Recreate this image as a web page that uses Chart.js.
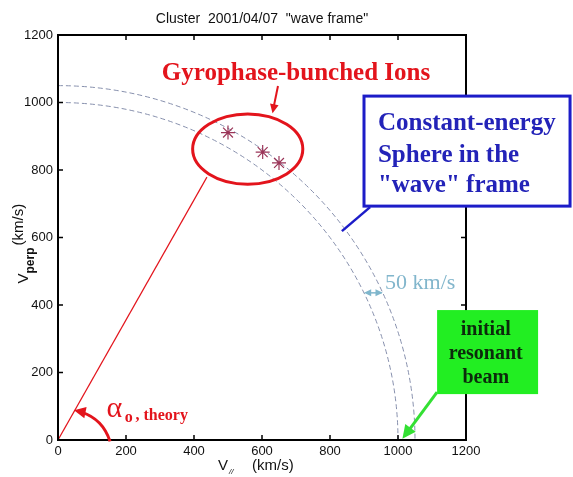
<!DOCTYPE html>
<html>
<head>
<meta charset="utf-8">
<script src="https://cdn.jsdelivr.net/npm/chart.js@4"></script>
<style>
  html, body { margin: 0; padding: 0; background: #fff; }
</style>
</head>
<body>
<canvas id="myChart" width="573" height="477"></canvas>
<script>
// --- data ---
const ionVpar = [500, 602, 650];          // km/s
const ionVperp = [911, 853, 821];         // km/s
const sphereRadii = [1000, 1050];         // constant-energy spheres, km/s
const pitchLineVpar = [0, 438];
const pitchLineVperp = [0, 779];
const axisTicks = [0, 200, 400, 600, 800, 1000, 1200];

const RED = '#e3141c';
const BLUE = '#1c1cc8';
const SERIF = '"Liberation Serif", "DejaVu Serif", serif';
const SANS = '"Liberation Sans", Arial, sans-serif';

// small drawing helpers
function arrowHead(ctx, x0, y0, x1, y1, size, color) {
    const a = Math.atan2(y1 - y0, x1 - x0);
    ctx.save();
    ctx.fillStyle = color;
    ctx.beginPath();
    ctx.moveTo(x1, y1);
    ctx.lineTo(x1 - size * Math.cos(a - 0.45), y1 - size * Math.sin(a - 0.45));
    ctx.lineTo(x1 - size * Math.cos(a + 0.45), y1 - size * Math.sin(a + 0.45));
    ctx.closePath();
    ctx.fill();
    ctx.restore();
}

function line(ctx, x0, y0, x1, y1, color, w) {
    ctx.save();
    ctx.strokeStyle = color;
    ctx.lineWidth = w;
    ctx.beginPath();
    ctx.moveTo(x0, y0);
    ctx.lineTo(x1, y1);
    ctx.stroke();
    ctx.restore();
}

// spheres (arcs) + frame, inward ticks, title, axis labels
const framePlugin = {
    id: 'frame',
    beforeDatasetsDraw(chart) {
        const { ctx, chartArea: a, scales: { x, y } } = chart;
        ctx.save();
        ctx.beginPath();
        ctx.rect(a.left, a.top, a.right - a.left, a.bottom - a.top);
        ctx.clip();
        ctx.strokeStyle = '#8790ad';
        ctx.lineWidth = 1;
        ctx.setLineDash([5, 3]);
        sphereRadii.forEach(r => {
            const cx = x.getPixelForValue(0), cy = y.getPixelForValue(0);
            const rx = x.getPixelForValue(r) - cx;
            const ry = cy - y.getPixelForValue(r);
            ctx.beginPath();
            ctx.ellipse(cx, cy, rx, ry, 0, -Math.PI / 2, 0);
            ctx.stroke();
        });
        ctx.restore();
    },
    afterDraw(chart) {
        const { ctx, chartArea: a, scales: { x, y } } = chart;
        ctx.save();
        // box
        ctx.strokeStyle = '#000';
        ctx.lineWidth = 2;
        ctx.strokeRect(a.left, a.top, a.right - a.left, a.bottom - a.top);
        // inward ticks on all four sides
        ctx.lineWidth = 1.5;
        ctx.beginPath();
        axisTicks.forEach(v => {
            const px = x.getPixelForValue(v);
            ctx.moveTo(px, a.bottom); ctx.lineTo(px, a.bottom - 5);
            ctx.moveTo(px, a.top); ctx.lineTo(px, a.top + 5);
            const py = y.getPixelForValue(v);
            ctx.moveTo(a.left, py); ctx.lineTo(a.left + 5, py);
            ctx.moveTo(a.right, py); ctx.lineTo(a.right - 5, py);
        });
        ctx.stroke();

        // title
        ctx.fillStyle = '#111';
        ctx.font = '14px ' + SANS;
        ctx.textAlign = 'center';
        ctx.textBaseline = 'alphabetic';
        ctx.fillText('Cluster  2001/04/07  "wave frame"', (a.left + a.right) / 2, 23);

        // x axis label: V// (km/s)
        const xc = (a.left + a.right) / 2;
        ctx.textAlign = 'left';
        ctx.font = '15px ' + SANS;
        ctx.fillText('V', xc - 44, 470);
        ctx.font = 'italic 8px ' + SANS;
        ctx.fillText('//', xc - 33, 474);
        ctx.font = '15px ' + SANS;
        ctx.fillText('(km/s)', xc - 10, 470);

        // y axis label: Vperp (km/s)
        ctx.save();
        ctx.translate(28, (a.top + a.bottom) / 2);
        ctx.rotate(-Math.PI / 2);
        ctx.font = '15px ' + SANS;
        ctx.fillText('V', -46, 0);
        ctx.font = 'bold 12px ' + SANS;
        ctx.fillText('perp', -36, 6);
        ctx.font = '15px ' + SANS;
        ctx.fillText('(km/s)', -8, -5);
        ctx.restore();
        ctx.restore();
    }
};

// red / blue / green annotations, placed in data units
const notesPlugin = {
    id: 'notes',
    afterDraw(chart) {
        const { ctx, scales: { x, y } } = chart;
        const X = v => x.getPixelForValue(v);
        const Y = v => y.getPixelForValue(v);
        ctx.save();

        // ellipse around the bunched ions
        ctx.strokeStyle = RED;
        ctx.lineWidth = 3;
        ctx.beginPath();
        ctx.ellipse(X(558), Y(862), X(162) - X(0), Y(0) - Y(104), 0, 0, Math.PI * 2);
        ctx.stroke();

        // Gyrophase-bunched Ions label + arrow
        ctx.fillStyle = RED;
        ctx.font = 'bold 25px ' + SERIF;
        ctx.textAlign = 'center';
        ctx.fillText('Gyrophase-bunched Ions', X(700), Y(1067));
        line(ctx, X(647), Y(1049), X(634), Y(985), RED, 2);
        arrowHead(ctx, X(647), Y(1049), X(631), Y(968), 10, RED);

        // alpha label with curved arrow
        ctx.textAlign = 'left';
        ctx.font = '30px ' + SERIF;
        ctx.fillText('\u03b1', X(143), Y(68));
        ctx.font = 'bold 16px ' + SERIF;
        ctx.fillText('o', X(196), Y(53));
        ctx.fillText(', theory', X(228), Y(58));
        ctx.strokeStyle = RED;
        ctx.lineWidth = 3;
        ctx.beginPath();
        ctx.moveTo(X(153), Y(-4));
        ctx.quadraticCurveTo(X(132), Y(62), X(70), Y(82));
        ctx.stroke();
        arrowHead(ctx, X(110), Y(75), X(47), Y(88), 13, RED);

        // blue box
        const bl = X(900), bt = Y(1019), bw = X(1506) - X(900), bh = Y(693) - Y(1019);
        ctx.fillStyle = '#fff';
        ctx.fillRect(bl, bt, bw, bh);
        ctx.strokeStyle = BLUE;
        ctx.lineWidth = 3;
        ctx.strokeRect(bl, bt, bw, bh);
        line(ctx, X(918), Y(690), X(835), Y(619), BLUE, 2.5);
        ctx.fillStyle = '#2323b8';
        ctx.font = 'bold 25px ' + SERIF;
        ctx.fillText('Constant-energy', X(941), Y(919));
        ctx.fillText('Sphere in the', X(941), Y(824));
        ctx.fillText('"wave" frame', X(941), Y(735));

        // 50 km/s gap marker
        const gy = Y(436);
        line(ctx, X(908), gy, X(952), gy, '#7fb6cc', 1.5);
        arrowHead(ctx, X(935), gy, X(900), gy, 8, '#7fb6cc');
        arrowHead(ctx, X(920), gy, X(955), gy, 8, '#7fb6cc');
        ctx.fillStyle = '#82b6cc';
        ctx.font = '22px ' + SERIF;
        ctx.fillText('50 km/s', X(962), Y(446));

        // green box
        ctx.fillStyle = '#22ee22';
        ctx.fillRect(X(1115), Y(385), X(1412) - X(1115), Y(136) - Y(385));
        ctx.fillStyle = '#0c2a0c';
        ctx.font = 'bold 20px ' + SERIF;
        ctx.textAlign = 'center';
        ctx.fillText('initial', X(1258), Y(311));
        ctx.fillText('resonant', X(1258), Y(240));
        ctx.fillText('beam', X(1258), Y(169));
        line(ctx, X(1115), Y(142), X(1030), Y(26), '#33e033', 3);
        arrowHead(ctx, X(1090), Y(108), X(1013), Y(4), 15, '#33e033');

        ctx.restore();
    }
};

const ctx = document.getElementById('myChart');

new Chart(ctx, {
    type: 'scatter',
    data: {
        datasets: [
            {
                // pitch-angle line from the origin
                data: pitchLineVpar.map((v, i) => ({ x: v, y: pitchLineVperp[i] })),
                showLine: true,
                borderColor: RED,
                borderWidth: 1.2,
                pointRadius: 0
            },
            {
                data: ionVpar.map((v, i) => ({ x: v, y: ionVperp[i] })),
                pointStyle: 'star',
                pointRadius: 7,
                borderColor: '#9b3558',
                borderWidth: 1.2,
                backgroundColor: '#9b3558'
            }
        ]
    },
    options: {
        responsive: false,
        animation: false,
        devicePixelRatio: 1,
        layout: { padding: { left: 0, top: 35, right: 107, bottom: 0 } },
        scales: {
            x: {
                min: 0, max: 1200,
                afterFit: s => { s.height = 37; },
                afterBuildTicks: s => { s.ticks = axisTicks.map(v => ({ value: v })); },
                grid: { display: false, drawTicks: false },
                border: { display: false },
                ticks: { color: '#111', padding: 4, maxRotation: 0, callback: v => String(v), font: { size: 13, family: SANS } }
            },
            y: {
                min: 0, max: 1200,
                afterFit: s => { s.width = 58; },
                afterBuildTicks: s => { s.ticks = axisTicks.map(v => ({ value: v })); },
                grid: { display: false, drawTicks: false },
                border: { display: false },
                ticks: { color: '#111', padding: 5, callback: v => String(v), font: { size: 13, family: SANS } }
            }
        },
        plugins: {
            legend: { display: false },
            tooltip: { enabled: false }
        }
    },
    plugins: [framePlugin, notesPlugin]
});
</script>
</body>
</html>
